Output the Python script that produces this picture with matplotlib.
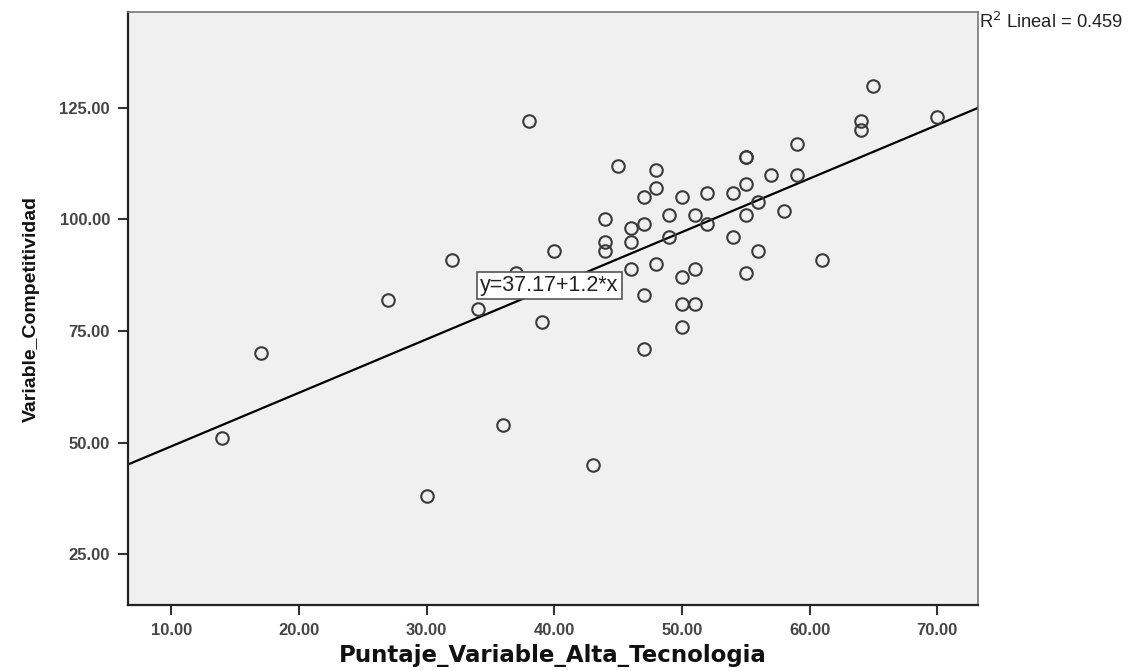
import matplotlib
matplotlib.use("Agg")
import matplotlib.pyplot as plt
import numpy as np

# Data
x_vals = [14, 17, 27, 30, 32, 34, 36, 37, 38, 39, 40, 43, 44, 44, 44, 45, 46, 46, 46,
          47, 47, 47, 47, 48, 48, 48, 49, 49, 50, 50, 50, 50, 51, 51, 51, 52, 52, 54, 54,
          55, 55, 55, 55, 55, 56, 56, 57, 58, 59, 59, 61, 64, 64, 65, 70]
y_vals = [51, 70, 82, 38, 91, 80, 54, 88, 122, 77, 93, 45, 100, 95, 93, 112, 98, 95, 89,
          105, 99, 83, 71, 111, 107, 90, 101, 96, 105, 87, 81, 76, 101, 89, 81, 106, 99, 106, 96,
          114, 114, 108, 101, 88, 104, 93, 110, 102, 117, 110, 91, 122, 120, 130, 123]
intercept = 37.17
slope = 1.2
r2_text = "R$^2$ Lineal = 0.459"
eq_text = "y=37.17+1.2*x"
x_ticks = [10, 20, 30, 40, 50, 60, 70]
y_ticks = [25, 50, 75, 100, 125]
x_label = "Puntaje_Variable_Alta_Tecnologia"
y_label = "Variable_Competitividad"

fig = plt.figure(figsize=(11.36, 6.71), dpi=100)
ax = fig.add_axes([128/1136, 1-605/671, (978-128)/1136, (605-12)/671])
ax.set_facecolor("#f0f0f0")

xlim = (6.6, 73.2)
ylim = (13.6, 146.5)
ax.set_xlim(*xlim)
ax.set_ylim(*ylim)

xs = np.array(xlim)
ax.plot(xs, intercept + slope * xs, color="black", lw=1.6, zorder=2)
ax.plot(x_vals, y_vals, linestyle="none", marker="o", markersize=9,
        markerfacecolor="none", markeredgecolor="#3a3a3a", markeredgewidth=1.5, zorder=3)

ax.set_xticks(x_ticks)
ax.set_yticks(y_ticks)
ax.set_xticklabels([f"{v:.2f}" for v in x_ticks])
ax.set_yticklabels([f"{v:.2f}" for v in y_ticks])
ax.tick_params(axis="both", direction="out", length=7, width=1.5, color="#333333",
               labelsize=12, labelcolor="#454545", pad=6)
for lab in ax.get_xticklabels() + ax.get_yticklabels():
    lab.set_fontweight("bold")
    lab.set_family(["Liberation Sans", "DejaVu Sans"])

for s in ["left", "bottom"]:
    ax.spines[s].set_color("#222222")
    ax.spines[s].set_linewidth(1.6)
for s in ["top", "right"]:
    ax.spines[s].set_color("#777777")
    ax.spines[s].set_linewidth(1.2)

narrow = ["Liberation Sans Narrow", "Liberation Sans", "DejaVu Sans"]
ax.set_xlabel(x_label, fontsize=16.5, fontweight="bold", family=["DejaVu Sans"],
              labelpad=4, color="#111111")
ax.set_ylabel(y_label, fontsize=14, fontweight="bold", family=narrow, labelpad=14, color="#111111")

ax.text(39.6, 85.2, eq_text, ha="center", va="center", fontsize=15.5,
        family=["Liberation Sans", "DejaVu Sans"], color="#222222",
        bbox=dict(boxstyle="square,pad=0.15", fc="white", ec="#555555", lw=1.2), zorder=4)

fig.text(979/1136, 1-22/671, r2_text, ha="left", va="center", fontsize=13.2,
         family=["Liberation Sans", "DejaVu Sans"], color="#222222")

fig.savefig("out.png", dpi=100, facecolor="white")
